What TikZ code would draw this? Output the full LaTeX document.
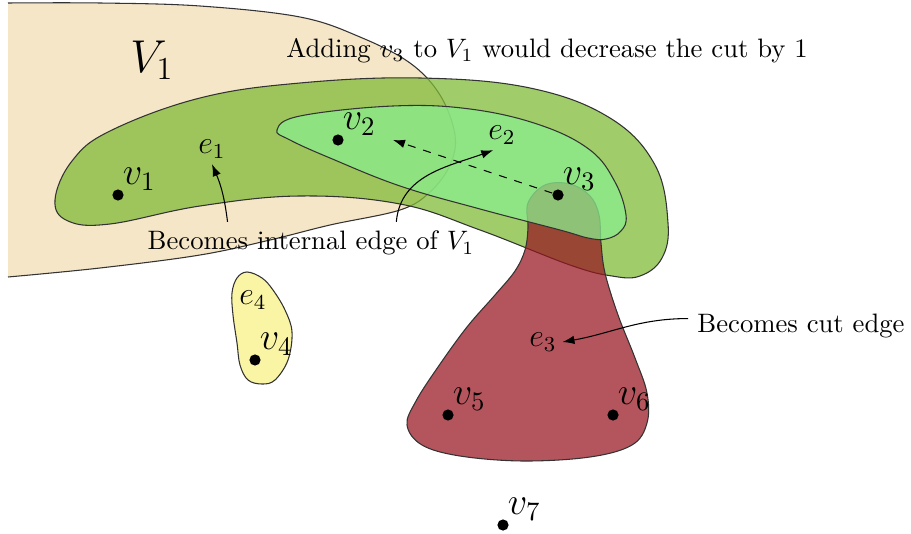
\documentclass[tikz,border=0pt]{standalone}
\usepackage{amsmath,amssymb}
\usepackage{tikz}
\usetikzlibrary{arrows,arrows.meta,positioning,shapes}
\usepackage{xcolor}

\definecolor{partcol}{RGB}{245,230,200}
\definecolor{eonecol}{RGB}{128,187,56}
\definecolor{etwocol}{RGB}{139,236,141}
\definecolor{ethreecol}{RGB}{152,21,32}
\definecolor{efourcol}{RGB}{250,245,165}

\begin{document}
\begin{tikzpicture}[
  x=0.375pt, y=0.375pt, >={Latex[length=4.5pt,width=3.2pt]},
  blob/.style={draw=black!80, thin},
  vertex/.style={circle, fill=black, inner sep=0pt, minimum size=4.2pt},
  vlabel/.style={font=\Large, inner sep=0pt},
  elabel/.style={font=\large, inner sep=2pt},
  note/.style={font=\normalsize}
]
  \useasboundingbox (0,0) rectangle (911,533);

  \filldraw[blob, fill=partcol] plot[smooth, tension=0.6] coordinates {(8,530) (100,530) (200,527) (300,516) (360,496) (410,470) (440,438) (455,398) (450,368) (430,341) (400,323) (330,308) (270,293) (200,278) (100,265) (8,256)};

  \filldraw[blob, fill=eonecol, fill opacity=.75] plot[smooth cycle, tension=0.65] coordinates {(55,333) (72,372) (110,402) (200,435) (300,450) (420,455) (530,445) (610,415) (655,368) (668,310) (662,275) (640,257) (612,257) (570,268) (480,303) (400,329) (300,337) (200,327) (110,309) (68,312)};

  \filldraw[blob, fill=ethreecol, fill opacity=.73] plot[smooth cycle, tension=0.6] coordinates {(528,330) (528,305) (525,283) (515,262) (495,238) (467,206) (438,166) (416,132) (407,108) (422,88) (460,77) (523,72) (590,76) (632,88) (647,110) (647,140) (635,175) (618,218) (605,260) (601,290) (599,318) (590,337) (570,349) (545,348)};

  \filldraw[blob, fill=etwocol, fill opacity=.75] plot[smooth cycle, tension=0.65] coordinates {(277,403) (300,417) (393,427) (470,424) (540,408) (590,383) (615,351) (626,318) (621,302) (606,294) (588,295) (560,303) (480,324) (400,347) (330,375) (290,393)};

  \filldraw[blob, fill=efourcol] plot[smooth cycle, tension=0.6] coordinates {(247,261) (262,255) (273,243) (285,223) (292,201) (288,173) (275,153) (262,149) (248,153) (240,168) (237,190) (233,218) (232,240) (237,255)};

  \node[font=\LARGE] (V1) at (152,473) {$V_1$};

  \node[vertex, label={[vlabel]above right:$v_1$}] (v1) at (118,338) {};
  \node[vertex, label={[vlabel]above right:$v_2$}] (v2) at (338,393) {};
  \node[vertex, label={[vlabel]above right:$v_3$}] (v3) at (558,338) {};
  \node[vertex, label={[vlabel]above right:$v_4$}] (v4) at (255,173) {};
  \node[vertex, label={[vlabel]above right:$v_5$}] (v5) at (448,118) {};
  \node[vertex, label={[vlabel]above right:$v_6$}] (v6) at (613,118) {};
  \node[vertex, label={[vlabel]above right:$v_7$}] (v7) at (503,8) {};

  \node[elabel] (e1) at (212,384) {$e_1$};
  \node[elabel] (e2) at (502,398) {$e_2$};
  \node[elabel] (e3) at (543,191) {$e_3$};
  \node[elabel] (e4) at (253,233) {$e_4$};

  \node[note, anchor=base] (adding) at (547,475) {Adding $v_3$ to $V_1$ would decrease the cut by 1};
  \node[note, anchor=base] (internal) at (311,283) {Becomes internal edge of $V_1$};
  \node[note, anchor=base] (cut) at (801,201) {Becomes cut edge};
  \coordinate (towardv2) at (393,393);

  \draw[->, dashed] (v3) -- (towardv2);
  \draw[->] ([xshift=-31.3pt]internal.north) to[bend right=8] (e1.south);
  \draw[->] ([xshift=32pt]internal.north) to[out=85, in=200] (e2.240);
  \draw[->] ([yshift=2.6pt]cut.west) to[out=180, in=10] (e3.east);
\end{tikzpicture}
\end{document}
